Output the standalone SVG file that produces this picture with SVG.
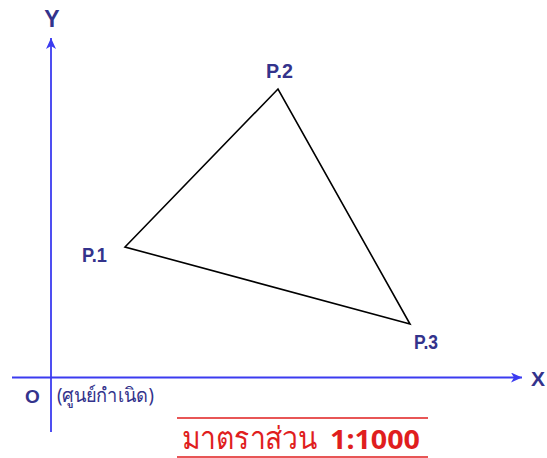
<svg xmlns="http://www.w3.org/2000/svg" width="547" height="458" viewBox="0 0 547 458">
<defs>
<marker id="arr" markerWidth="12" markerHeight="10" refX="11" refY="5" orient="auto" markerUnits="userSpaceOnUse">
<path d="M0,0 L11,5 L0,10 L3,5 Z" fill="#3b3bf0"/>
</marker>
<style>
.axis{stroke:#3b3bf0;stroke-width:1.8;fill:none}
.lbl{font-family:"Liberation Sans","DejaVu Sans",sans-serif;font-weight:bold;fill:#33338c}
.thai{font-family:"Noto Sans","DejaVu Sans","Liberation Sans",sans-serif;fill:#33338c}
.red{font-family:"Noto Sans","DejaVu Sans","Liberation Sans",sans-serif;fill:#e01e1e}
</style>
</defs>
<rect width="547" height="458" fill="#fff"/>
<g id="connectors">
<line class="axis" x1="51" y1="432" x2="51" y2="38" marker-end="url(#arr)"/>
<line class="axis" x1="12" y1="377.5" x2="522" y2="377.5" marker-end="url(#arr)"/>
</g>
<g id="triangle">
<polygon points="125,247 278,89 410,324" fill="none" stroke="#000" stroke-width="1.6" stroke-linejoin="miter"/>
</g>
<g id="axis-y-label"><text class="lbl" x="52" y="27" font-size="23" text-anchor="middle">Y</text></g>
<g id="axis-x-label"><text class="lbl" x="531" y="386" font-size="21">X</text></g>
<g id="origin">
<text class="lbl" x="25" y="403" font-size="19">O</text>
<text class="thai" x="57" y="402" font-size="19.5" textLength="97" lengthAdjust="spacingAndGlyphs">(ศูนย์กำเนิด)</text>
</g>
<g id="p1"><text class="lbl" x="82" y="262" font-size="21" textLength="25" lengthAdjust="spacingAndGlyphs">P.1</text></g>
<g id="p2"><text class="lbl" x="266" y="78" font-size="21" textLength="27" lengthAdjust="spacingAndGlyphs">P.2</text></g>
<g id="p3"><text class="lbl" x="414" y="349" font-size="21" textLength="24" lengthAdjust="spacingAndGlyphs">P.3</text></g>
<g id="scale">
<line x1="177" y1="418" x2="428" y2="418" stroke="#e01e1e" stroke-width="1.6"/>
<line x1="177" y1="457" x2="428" y2="457" stroke="#e01e1e" stroke-width="1.6"/>
<text class="red" x="182" y="449" font-size="31" textLength="135" lengthAdjust="spacingAndGlyphs">มาตราส่วน</text>
<text class="red" x="330" y="449" font-size="27" font-weight="bold" font-family="Liberation Sans,sans-serif" textLength="90" lengthAdjust="spacingAndGlyphs">1:1000</text>
</g>
</svg>
